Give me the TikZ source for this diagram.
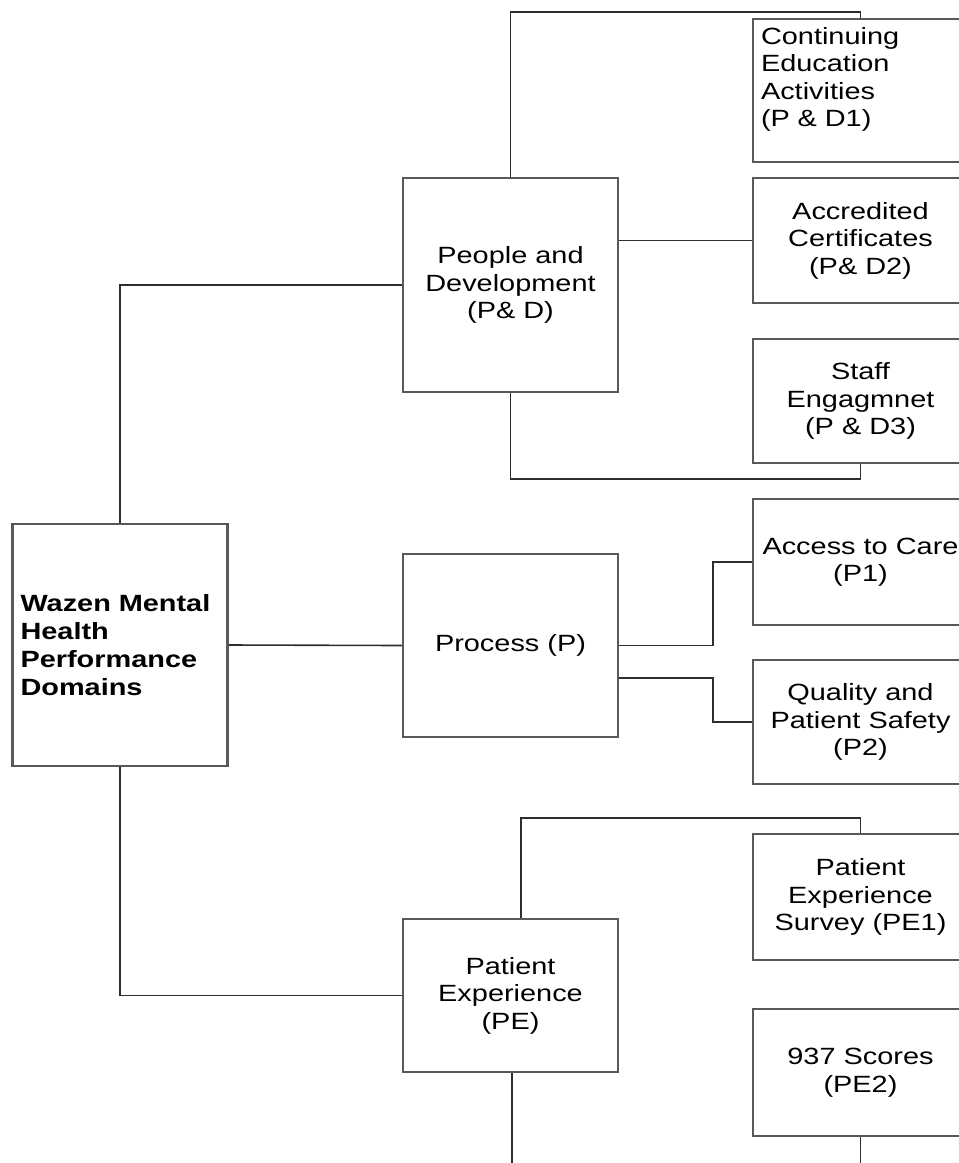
\documentclass[tikz,border=0pt]{standalone}
\usepackage{fontspec}
\setmainfont[FakeStretch=1.23]{Liberation Sans}
\definecolor{boxgray}{gray}{0.35}
\definecolor{linegray}{gray}{0.18}
\begin{document}
\begin{tikzpicture}[x=1pt,y=-1pt,
  box/.style={draw=boxgray, line width=2.2pt, fill=white, inner sep=0pt,
    minimum width=215pt, align=center,
    font=\fontsize{23.5}{27.5}\selectfont},
  lbox/.style={box, align=left, text width=199pt, inner sep=8pt},
  conn/.style={draw=linegray, line width=1.6pt}]
\useasboundingbox (0,0) rectangle (959,1163);
\clip (0,0) rectangle (959,1163);
\fill[white] (0,0) rectangle (959,1163);

% nodes
\node[lbox, minimum height=242pt, font=\fontsize{23.5}{28}\selectfont\bfseries] (root) at (120,645)
  {Wazen Mental\\Health\\Performance\\Domains};
\node[box, minimum height=214pt] (PD) at (510.5,285) {People and\\Development\\(P\& D)};
\node[box, minimum height=183pt] (Proc) at (510.5,645.5) {Process (P)};
\node[box, minimum height=153pt] (PE) at (510.5,995.5) {Patient\\Experience\\(PE)};

\node[lbox, minimum height=139pt] (CE) at (860.5,90.5) {Continuing\\Education\\Activities\\(P \& D1)\\\mbox{}};
\node[box, minimum height=125pt] (AC) at (860.5,240.5) {Accredited\\Certificates\\(P\& D2)};
\node[box, minimum height=124pt] (SE) at (860.5,401) {Staff\\Engagmnet\\(P \& D3)};
\node[box, minimum height=126pt] (AtC) at (860.5,562) {Access to Care\\(P1)};
\node[box, minimum height=124pt] (QPS) at (860.5,722) {Quality and\\Patient Safety\\(P2)};
\node[box, minimum height=126pt] (PE1) at (860.5,897) {Patient\\Experience\\Survey (PE1)};
\node[box, minimum height=127pt] (PE2) at (860.5,1072.5) {937 Scores\\(PE2)};

\coordinate (peend) at (512,1175);
\coordinate (pe2end) at (860.5,1175);

% connectors
\draw[conn] (root.north) |- (PD.west);
\draw[conn] (root.east) -- (Proc.west);
\draw[conn] (root.south) |- (PE.west);

\draw[conn] (PD.north) -- (PD.north |- 0,12) -| (CE.north);
\draw[conn] (PD.east |- AC.west) -- (AC.west);
\draw[conn] (PD.south) -- (PD.south |- 0,479) -| (SE.south);

\draw[conn] (Proc.east) -- (713,645.5) |- (AtC.west);
\draw[conn] (Proc.east |- 0,678) -- (713,678) |- (QPS.west);

\draw[conn] (PE.north -| 521,0) -- (521,818) -| (PE1.north);
\draw[conn] (PE.south -| 512,0) -- (peend);
\draw[conn] (PE2.south) -- (pe2end);
\end{tikzpicture}
\end{document}
